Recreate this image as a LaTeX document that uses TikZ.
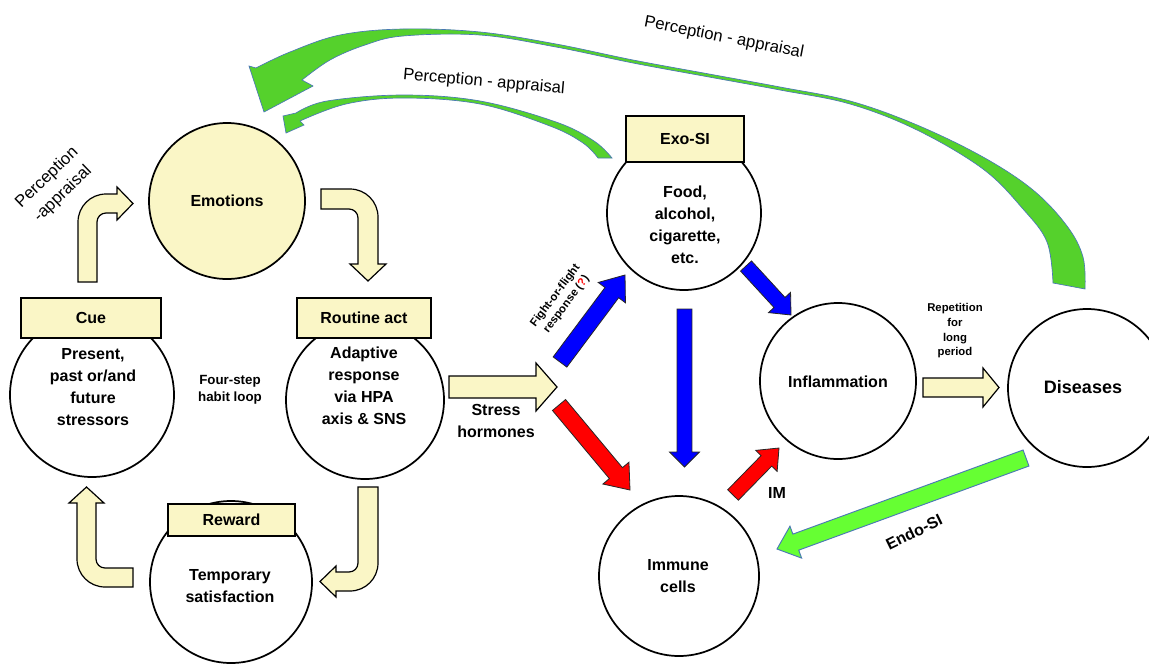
\documentclass[tikz,border=0pt]{standalone}
\usepackage{fontspec}
\setmainfont{Liberation Sans}
\usetikzlibrary{calc}
\definecolor{cream}{HTML}{FAF6C6}
\definecolor{ggreen}{HTML}{55D12C}
\definecolor{lgreen}{HTML}{66FF33}
\definecolor{gedge}{HTML}{4A78B5}
\newcommand{\blockarr}[6]{%
  \coordinate (bahead) at ($#2!#5!#1$);
  \filldraw[#6] ($#1!#3!90:#2$) -- ($(bahead)!#3!-90:#1$) -- ($(bahead)!#4!-90:#1$) -- #2 -- ($(bahead)!#4!90:#1$) -- ($(bahead)!#3!90:#1$) -- ($#1!#3!-90:#2$) -- cycle;}
\tikzset{
  yarrow/.style={fill=cream, draw=black, line width=0.9pt, line join=miter},
  rarrow/.style={fill=red, draw=black!85, line width=0.6pt},
  barrow/.style={fill=blue, draw=black!85, line width=0.6pt},
  garrow/.style={fill=ggreen, draw=gedge, line width=0.5pt},
  earrow/.style={fill=lgreen, draw=gedge, line width=0.7pt},
  circ/.style={circle, draw=black, line width=1.3pt, inner sep=0pt, fill=white},
  hbox/.style={rectangle, draw=black, line width=1.3pt, fill=cream, font=\bfseries\fontsize{12}{14}\selectfont, inner sep=0pt},
  lbl/.style={font=\bfseries\fontsize{12}{16.5}\selectfont, align=center, inner sep=0pt},
  plbl/.style={font=\fontsize{12.5}{17}\selectfont, align=center, inner sep=0pt},
}
\begin{document}
\begin{tikzpicture}[x=0.75pt,y=-0.75pt]
\useasboundingbox (0,0) rectangle (1149,664);
\clip (0,0) rectangle (1149,664);
\fill[white] (0,0) rectangle (1149,664);

% big curved arrow (Diseases -> Emotions)
\filldraw[garrow] plot[smooth, tension=0.6] coordinates {(1085,289) (1083,257) (1067,226) (1033,190) (983,157) (917,125) (850,101) (780,87) (709,74) (633,60) (556,44) (480,32) (403,29) (340,35) (290,52) (256,68)}
  -- (249,66) -- (264,112) -- (313,86) -- (302,80)
  -- plot[smooth, tension=0.6] coordinates {(302,80) (330,60) (365,45) (403,36) (480,35) (556,47) (633,63) (709,77) (780,90) (850,104) (917,130) (983,169) (1023,209) (1047,242) (1053,283)} -- cycle;

% small curved arrow (Exo-SI -> Emotions)
\filldraw[garrow] plot[smooth, tension=0.6] coordinates {(612,158) (594,141) (556,122) (480,101) (403,95) (327,101) (296,113)}
  -- (283,116) -- (286,133) -- (304,125) -- (300,121)
  -- plot[smooth, tension=0.6] coordinates {(300,121) (346,104) (403,98) (480,104) (550,126) (583,143) (598,158)} -- cycle;

\node[plbl, rotate=-5] (pa1) at (484,82) {Perception - appraisal};
\node[plbl, rotate=-11] (pa2) at (724,38) {Perception - appraisal};
\node[plbl, rotate=44] (pa3) at (55,186) {Perception\\-appraisal};

% circles
\node[circ, fill=cream, minimum size=117pt, font=\bfseries\fontsize{12}{14}\selectfont] (emo) at (227,201) {Emotions};
\node[circ, minimum size=123pt] (cue) at (92,395) {};
\node[circ, minimum size=118.5pt] (rout) at (365,400) {};
\node[circ, minimum size=121.5pt] (rew) at (231,582) {};
\node[circ, minimum size=115.5pt] (exo) at (684,213) {};
\node[circ, minimum size=117pt] (infl) at (838,381) {};
\node[circ, minimum size=120pt] (imm) at (679,576) {};
\node[circ, minimum size=118.5pt] (dis) at (1087,388) {};

% header boxes
\node[hbox, minimum width=105pt, minimum height=30pt] (cuebox) at (91,318) {Cue};
\node[hbox, minimum width=100pt, minimum height=30pt] (routbox) at (364,318) {Routine act};
\node[hbox, minimum width=95.25pt, minimum height=24pt] (rewbox) at (231.5,520) {Reward};
\node[hbox, minimum width=88.5pt, minimum height=34.5pt] (exobox) at (685,139) {Exo-SI};

% circle texts
\node[lbl] (cuet) at (93,387) {Present,\\past or/and\\future\\stressors};
\node[lbl] (routt) at (364,386) {Adaptive\\response\\via HPA\\axis \& SNS};
\node[lbl] (rewt) at (230,586) {Temporary\\satisfaction};
\node[lbl] (exot) at (685,225) {Food,\\alcohol,\\cigarette,\\etc.};
\node[lbl] (inflt) at (838,382) {Inflammation};
\node[lbl] (immt) at (678,576) {Immune\\cells};
\node[lbl, font=\bfseries\fontsize{13.5}{16}\selectfont] (dist) at (1083,387) {Diseases};

% free labels
\node[lbl, font=\bfseries\fontsize{10}{13}\selectfont] (loop) at (230,390) {Four-step\\habit loop};
\node[lbl] (stress) at (496,421) {Stress\\hormones};
\node[lbl, font=\bfseries\fontsize{8.5}{11}\selectfont] (rep) at (955,331) {Repetition\\for\\long\\period};
\node[lbl, font=\bfseries\fontsize{8.5}{10.5}\selectfont, rotate=53] (ff) at (561,300) {Fight-or-flight\\response ({\color{red}?})};
\node[lbl] (im) at (777,493) {IM};
\node[lbl, rotate=26] (endo) at (914,532) {Endo-SI};

% bent habit-loop arrows
\filldraw[yarrow] (78,282) -- (78,222) .. controls (78,206.5) and (90.5,194) .. (106,194) -- (117,194) -- (117,187) -- (133,203.5) -- (117,220) -- (117,213) -- (106,213) .. controls (101,213) and (97,217) .. (97,222) -- (97,282) -- cycle;
\filldraw[yarrow] (321,189) -- (350,189) .. controls (365.5,189) and (378,201.5) .. (378,217) -- (378,264) -- (386,264) -- (368,281) -- (350,264) -- (358,264) -- (358,218) .. controls (358,213) and (354,209) .. (349,209) -- (321,209) -- cycle;
\filldraw[yarrow] (358,487) -- (378,487) -- (378,563) .. controls (378,578.5) and (365.5,591) .. (350,591) -- (336,591) -- (336,597) -- (320,581.5) -- (336,566) -- (336,572) -- (349,572) .. controls (354,572) and (358,568) .. (358,563) -- cycle;
\filldraw[yarrow] (133,568) -- (105,568) .. controls (100,568) and (96,564) .. (96,559) -- (96,503) -- (104,503) -- (86.5,487) -- (69,503) -- (77,503) -- (77,559) .. controls (77,574.5) and (89.5,587) .. (105,587) -- (133,587) -- cycle;

% straight arrows
\coordinate (sts) at (449,387); \coordinate (ste) at (557,387);
\blockarr{(sts)}{(ste)}{8.25pt}{18pt}{15.75pt}{yarrow}
\coordinate (rps) at (923,387.5); \coordinate (rpe) at (999,387.5);
\blockarr{(rps)}{(rpe)}{7.1pt}{14.6pt}{12pt}{yarrow}
\coordinate (b1s) at (560,362); \coordinate (b1e) at (625,275);
\blockarr{(b1s)}{(b1e)}{6.4pt}{12.75pt}{16.5pt}{barrow}
\coordinate (r1s) at (559,405); \coordinate (r1e) at (630,490);
\blockarr{(r1s)}{(r1e)}{6.4pt}{12.75pt}{16.5pt}{rarrow}
\coordinate (b2s) at (684.5,309); \coordinate (b2e) at (684.5,467);
\blockarr{(b2s)}{(b2e)}{5.6pt}{11.25pt}{11.25pt}{barrow}
\coordinate (b3s) at (746,266); \coordinate (b3e) at (791,315);
\blockarr{(b3s)}{(b3e)}{5.6pt}{11.25pt}{12.75pt}{barrow}
\coordinate (r2s) at (733,495); \coordinate (r2e) at (779,448);
\blockarr{(r2s)}{(r2e)}{5.6pt}{11.25pt}{13.5pt}{rarrow}
\coordinate (ens) at (1026,458); \coordinate (ene) at (777,549);
\blockarr{(ens)}{(ene)}{6.4pt}{12.75pt}{15pt}{earrow}
\end{tikzpicture}
\end{document}
